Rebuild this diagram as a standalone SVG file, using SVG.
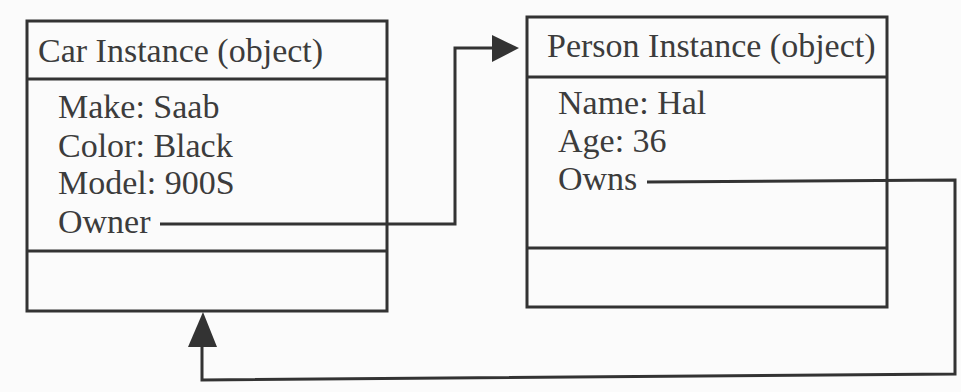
<svg xmlns="http://www.w3.org/2000/svg" width="961" height="392" viewBox="0 0 961 392">
<style>
.box{fill:none;stroke:#333;stroke-width:3}
.div{stroke:#333;stroke-width:3}
.t{font-family:"Liberation Serif","Times New Roman",serif;font-size:34px;fill:#3c3c3c}
.c{fill:none;stroke:#333;stroke-width:3}
.ah{fill:#333}
</style>
<rect width="961" height="392" fill="#fbfbfb"/>
<g id="car">
<rect class="box" x="27" y="21" width="360" height="290"/>
<line class="div" x1="27" y1="79" x2="387" y2="79"/>
<line class="div" x1="27" y1="251" x2="387" y2="251"/>
<text class="t" x="38" y="62">Car Instance (object)</text>
<text class="t" x="58" y="118">Make: Saab</text>
<text class="t" x="58" y="157">Color: Black</text>
<text class="t" x="58" y="194">Model: 900S</text>
<text class="t" x="58" y="233">Owner</text>
</g>
<g id="person">
<rect class="box" x="527" y="17" width="360" height="290"/>
<line class="div" x1="527" y1="77" x2="887" y2="77"/>
<line class="div" x1="527" y1="248" x2="887" y2="248"/>
<text class="t" x="547" y="57">Person Instance (object)</text>
<text class="t" x="558" y="114">Name: Hal</text>
<text class="t" x="558" y="152">Age: 36</text>
<text class="t" x="558" y="190">Owns</text>
</g>
<g id="connectors">
<polyline class="c" points="160,224 455,224 455,48 494,48"/>
<polygon class="ah" points="492,35 519,48 492,62"/>
<polyline class="c" points="647,182 955,180 955,374 202,380 202,345"/>
<polygon class="ah" points="188,347 203,312 217,347"/>
</g>
</svg>
